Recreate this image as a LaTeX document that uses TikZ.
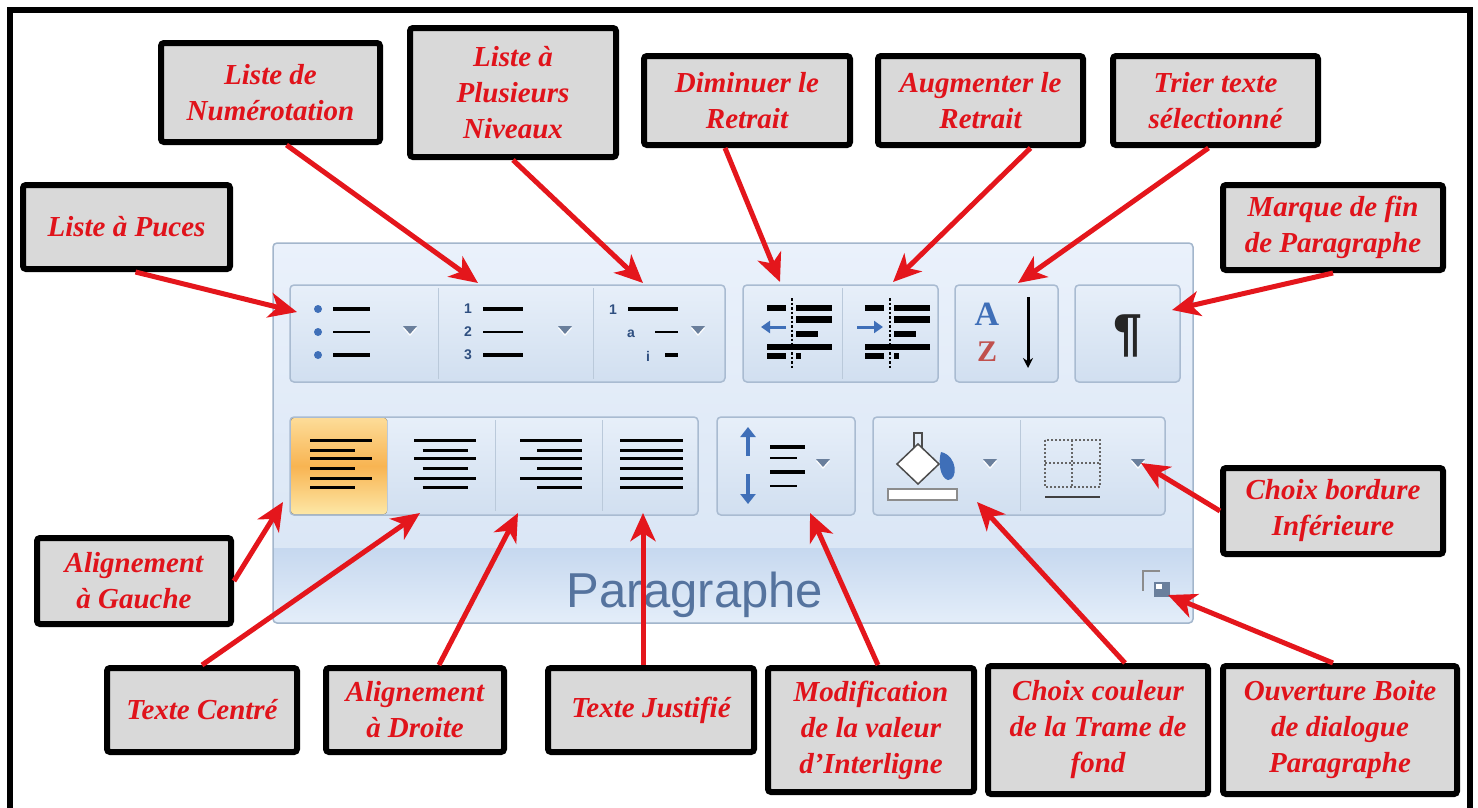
\documentclass[tikz,border=0pt]{standalone}
\usepackage{fontspec}
\usetikzlibrary{arrows.meta}
\newfontfamily\tagfont{Liberation Serif}
\newfontfamily\ribbonfont{Liberation Sans}
\definecolor{tagred}{HTML}{E0131B}
\definecolor{taggray}{HTML}{D9D9D9}
\definecolor{pointred}{HTML}{E4161C}
\definecolor{panelhi}{HTML}{EAF1FB}
\definecolor{panello}{HTML}{D7E4F4}
\definecolor{paneledge}{HTML}{A3B6CC}
\definecolor{bandhi}{HTML}{C6D8EF}
\definecolor{bandlo}{HTML}{E3EDF9}
\definecolor{btnhi}{HTML}{E7EFF9}
\definecolor{btnlo}{HTML}{D1DFF0}
\definecolor{btnedge}{HTML}{A9BBD1}
\definecolor{iconblue}{HTML}{3F6FB8}
\definecolor{numblue}{HTML}{2F4F80}
\definecolor{parablue}{HTML}{55739E}
\definecolor{dropgray}{HTML}{6A7F9C}
\definecolor{orangehi}{HTML}{FDDC98}
\definecolor{orangemid}{HTML}{F8B452}
\definecolor{orangelo}{HTML}{FDE7A6}
\definecolor{zred}{HTML}{C0504D}

\tikzset{
  tagbox/.style={draw=black, line width=6pt, fill=taggray, rounded corners=3pt,
    text=tagred, align=center, inner sep=2pt,
    font=\tagfont\bfseries\itshape\fontsize{29}{36}\selectfont},
  pointer/.style={draw=pointred, line width=5pt,
    -{Stealth[length=28pt,width=25pt,inset=8pt]}},
  btn/.style={draw=btnedge, line width=1.5pt, rounded corners=4pt,
    top color=btnhi, bottom color=btnlo},
  divider/.style={draw=btnedge!80, line width=1pt},
  icontext/.style={inner sep=0pt, text=numblue,
    font=\ribbonfont\bfseries\fontsize{14}{14}\selectfont},
  alignline/.style={draw=black, line width=3pt}
}

\begin{document}
\begin{tikzpicture}[x=1pt,y=-1pt]
  \useasboundingbox (0,0) rectangle (1478,807);
  \fill[white] (0,0) rectangle (1478,807);
  \draw[line width=6pt] (10,810) -- (10,10) -- (1469.5,10) -- (1469.5,810);

  % ribbon group
  \fill[rounded corners=4pt, top color=panelhi, bottom color=panello] (273,243) rectangle (1193,623);
  \fill[top color=bandhi, bottom color=bandlo] (274,548) rectangle (1192,621);
  \draw[draw=paneledge, line width=1.5pt, rounded corners=4pt] (273,243) rectangle (1193,623);
  \node[font=\ribbonfont\fontsize{49}{49}\selectfont, text=parablue, anchor=base] (paratitle) at (695,607) {Paragraphe};

  \foreach \x/\y/\xx/\yy in {290/285/725/382, 743/285/938/382, 955/285/1058/382, 1075/285/1180/382,
      290/417/698/515, 717/417/855/515, 873/417/1165/515}
    \draw[btn] (\x,\y) rectangle (\xx,\yy);
  \fill[rounded corners=3pt, top color=orangehi, bottom color=orangelo, middle color=orangemid] (291,418) rectangle (387,514);
  \foreach \x/\y in {438/285, 593/285, 842/285, 387/417, 495/417, 602/417, 1020/417}
    \draw[divider] (\x,\y+3) -- (\x,\y+94);
  \foreach \x/\y in {410/330, 565/330, 698/330, 823/463, 990/463, 1138/463} {
    \fill[white] (\x-7,\y-2) -- (\x+7,\y-2) -- (\x,\y+6) -- cycle;
    \fill[dropgray] (\x-7,\y-4) -- (\x+7,\y-4) -- (\x,\y+4) -- cycle;
  }

  % bullets, numbers, levels
  \foreach \y/\w in {309/4pt, 332/2pt, 355/4pt} {
    \fill[iconblue] (318,\y) circle (4);
    \draw[line width=\w] (333,\y) -- (370,\y);
  }
  \foreach \i/\y/\w in {1/309/4pt, 2/332/2pt, 3/355/4pt} {
    \node[icontext] (num\i) at (468,\y) {\i};
    \draw[line width=\w] (483,\y) -- (523,\y);
  }
  \node[icontext] (levone) at (613,310) {1};
  \node[icontext] (levtwo) at (631,334) {a};
  \node[icontext] (levthree) at (648,356) {i};
  \draw[line width=4pt] (628,309) -- (678,309);
  \draw[line width=2pt] (655,332) -- (678,332);
  \draw[line width=4pt] (665,355) -- (678,355);

  % indent icons
  \foreach \dx in {0,98} {
    \begin{scope}[xshift=\dx]
      \draw[dotted, line width=2.5pt] (792,298) -- (792,368);
      \fill (767,305) rectangle (786,311);
      \fill (796,305) rectangle (832,311);
      \fill (796,316) rectangle (832,323);
      \fill (796,331) rectangle (818,337);
      \fill (767,344) rectangle (832,350);
      \fill (767,353) rectangle (786,359);
      \fill (796,353) rectangle (801,359);
    \end{scope}
  }
  \draw[iconblue, line width=3pt, -{Triangle[length=9pt,width=12pt]}] (786,327) -- (761,327);
  \draw[iconblue, line width=3pt, -{Triangle[length=9pt,width=12pt]}] (857,327) -- (883,327);

  % sort and pilcrow
  \node[font=\tagfont\bfseries\fontsize{34}{34}\selectfont, text=iconblue, inner sep=0pt] (sorta) at (987,314) {A};
  \node[font=\tagfont\bfseries\fontsize{30}{30}\selectfont, text=zred, inner sep=0pt] (sortz) at (987,352) {Z};
  \draw[line width=3pt, -{Stealth[length=10pt,width=10pt]}] (1028,297) -- (1028,368);
  \node[font=\ribbonfont\bfseries\fontsize{52}{52}\selectfont, text=black!85, inner sep=0pt] (pilcrow) at (1128,336) {¶};

  % alignment icons
  \foreach \y/\l in {440/62, 450/45, 458/62, 468/45, 478/62, 487/45} {
    \draw[alignline] (310,\y) -- ++(\l,0);
    \draw[alignline] (445-\l/2,\y) -- (445+\l/2,\y);
    \draw[alignline] (582-\l,\y) -- (582,\y);
    \draw[alignline] (620,\y) -- (683,\y);
  }

  % line spacing
  \draw[iconblue, line width=4pt, {Triangle[length=10pt,width=15pt]}-] (748,427) -- (748,456);
  \draw[iconblue, line width=4pt, -{Triangle[length=10pt,width=15pt]}] (748,474) -- (748,504);
  \foreach \y/\l/\w in {447/35/4pt, 458/27/2pt, 472/35/4pt, 486/27/2pt}
    \draw[line width=\w] (770,\y) -- ++(\l,0);

  % shading and borders
  \draw[black!70, line width=2pt] (914,452) -- (914,433) -- (922,433) -- (922,452);
  \draw[fill=white, draw=black!70, line width=1.5pt] (918,444) -- (939,464) -- (918,484) -- (897,464) -- cycle;
  \fill[iconblue] (941,452) .. controls (958,456) and (958,480) .. (948,480) .. controls (940,478) and (938,462) .. (941,452) -- cycle;
  \draw[fill=white, draw=black!45, line width=1.5pt] (888,489) rectangle (957,500);
  \draw[dotted, line width=2pt, draw=black!60] (1045,440) rectangle (1100,487);
  \draw[dotted, line width=2pt, draw=black!60] (1072,440) -- (1072,487);
  \draw[dotted, line width=2pt, draw=black!60] (1045,463) -- (1100,463);
  \draw[line width=2.5pt, draw=black!75] (1045,497) -- (1100,497);

  % dialog launcher
  \draw[black!45, line width=2pt] (1160,571) -- (1143,571) -- (1143,591);
  \fill[dropgray] (1154,582) rectangle (1170,597);
  \fill[white] (1156,584) rectangle (1162,589);

  % labels
  \node[tagbox, minimum width=207, minimum height=84] (puces) at (126.5,227) {Liste à Puces};
  \node[tagbox, minimum width=219, minimum height=99] (numero) at (270.5,92.5) {Liste de\\Numérotation};
  \node[tagbox, minimum width=206, minimum height=129] (niveaux) at (513,92.5) {Liste à\\Plusieurs\\Niveaux};
  \node[tagbox, minimum width=206, minimum height=89] (diminuer) at (747,100.5) {Diminuer le\\Retrait};
  \node[tagbox, minimum width=205, minimum height=89] (augmenter) at (980.5,100.5) {Augmenter le\\Retrait};
  \node[tagbox, minimum width=205, minimum height=89] (trier) at (1215.5,100.5) {Trier texte\\sélectionné};
  \node[tagbox, minimum width=220, minimum height=85] (marque) at (1333,227.5) {Marque de fin\\de Paragraphe};
  \node[tagbox, minimum width=220, minimum height=86] (bordure) at (1333,511) {Choix bordure\\Inférieure};
  \node[tagbox, minimum width=234, minimum height=128] (ouverture) at (1340,730) {Ouverture Boite\\de dialogue\\Paragraphe};
  \node[tagbox, minimum width=220, minimum height=128] (trame) at (1098,730) {Choix couleur\\de la Trame de\\fond};
  \node[tagbox, minimum width=206, minimum height=124] (interligne) at (871,730) {Modification\\de la valeur\\d’Interligne};
  \node[tagbox, minimum width=206, minimum height=84] (justifie) at (651,710) {Texte Justifié};
  \node[tagbox, minimum width=178, minimum height=84] (droite) at (415,710) {Alignement\\à Droite};
  \node[tagbox, minimum width=190, minimum height=84] (centre) at (202,710) {Texte Centré};
  \node[tagbox, minimum width=194, minimum height=86] (gauche) at (134,581) {Alignement\\à Gauche};

  % arrow targets on the ribbon
  \coordinate (ptpuces) at (297,312);
  \coordinate (ptnumero) at (478,283);
  \coordinate (ptniveaux) at (643,283);
  \coordinate (ptdiminuer) at (780,282);
  \coordinate (ptaugmenter) at (893,282);
  \coordinate (pttrier) at (1018,283);
  \coordinate (ptmarque) at (1172,310);
  \coordinate (ptbordure) at (1141,463);
  \coordinate (ptouverture) at (1168,595);
  \coordinate (pttrame) at (977,502);
  \coordinate (ptinterligne) at (810,513);
  \coordinate (ptjustifie) at (643,513);
  \coordinate (ptdroite) at (518,513);
  \coordinate (ptcentre) at (420,513);
  \coordinate (ptgauche) at (283,502);

  \foreach \from/\dx/\to in {puces.south/9/ptpuces, numero.south/16/ptnumero, niveaux.south/0/ptniveaux,
      diminuer.south/-22/ptdiminuer, augmenter.south/50/ptaugmenter, trier.south/-7/pttrier,
      marque.south/0/ptmarque, bordure.west/0/ptbordure, ouverture.north/-7/ptouverture,
      trame.north/27/pttrame, interligne.north/7/ptinterligne, justifie.north/-8/ptjustifie,
      droite.north/24/ptdroite, centre.north/0/ptcentre, gauche.east/0/ptgauche}
    \draw[pointer] ([xshift=\dx pt]\from) -- (\to);

\end{tikzpicture}
\end{document}
